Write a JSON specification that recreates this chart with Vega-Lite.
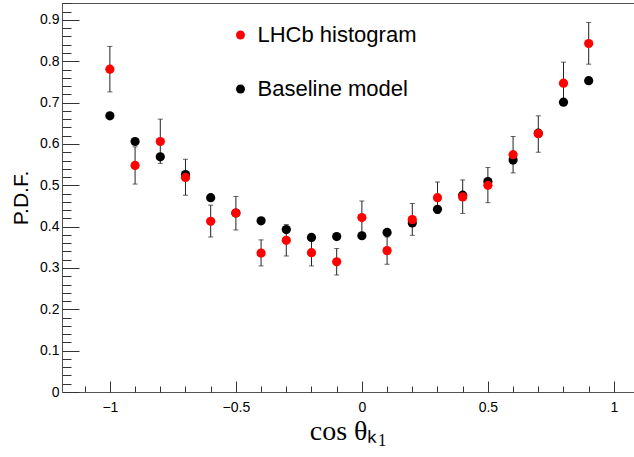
{
  "$schema": "https://vega.github.io/schema/vega-lite/v6.json",
  "width": 572,
  "height": 389,
  "autosize": "none",
  "padding": {"left": 62, "top": 3, "right": 0, "bottom": 65},
  "background": "white",
  "config": {"view": {"stroke": "#555555", "strokeWidth": 1}, "font": "Liberation Sans"},
  "data": {"values": [
    {"x": -1.0, "series": "Baseline model", "y": 0.668},
    {"x": -0.9, "series": "Baseline model", "y": 0.606},
    {"x": -0.8, "series": "Baseline model", "y": 0.569},
    {"x": -0.7, "series": "Baseline model", "y": 0.526},
    {"x": -0.6, "series": "Baseline model", "y": 0.470},
    {"x": -0.5, "series": "Baseline model", "y": 0.433},
    {"x": -0.4, "series": "Baseline model", "y": 0.414},
    {"x": -0.3, "series": "Baseline model", "y": 0.393},
    {"x": -0.2, "series": "Baseline model", "y": 0.374},
    {"x": -0.1, "series": "Baseline model", "y": 0.376},
    {"x": 0.0, "series": "Baseline model", "y": 0.378},
    {"x": 0.1, "series": "Baseline model", "y": 0.386},
    {"x": 0.2, "series": "Baseline model", "y": 0.409},
    {"x": 0.3, "series": "Baseline model", "y": 0.442},
    {"x": 0.4, "series": "Baseline model", "y": 0.476},
    {"x": 0.5, "series": "Baseline model", "y": 0.509},
    {"x": 0.6, "series": "Baseline model", "y": 0.561},
    {"x": 0.7, "series": "Baseline model", "y": 0.626},
    {"x": 0.8, "series": "Baseline model", "y": 0.701},
    {"x": 0.9, "series": "Baseline model", "y": 0.753},
    {"x": -1.0, "series": "LHCb histogram", "y": 0.781, "lo": 0.726, "hi": 0.836},
    {"x": -0.9, "series": "LHCb histogram", "y": 0.548, "lo": 0.503, "hi": 0.593},
    {"x": -0.8, "series": "LHCb histogram", "y": 0.606, "lo": 0.553, "hi": 0.660},
    {"x": -0.7, "series": "LHCb histogram", "y": 0.519, "lo": 0.476, "hi": 0.563},
    {"x": -0.6, "series": "LHCb histogram", "y": 0.413, "lo": 0.375, "hi": 0.452},
    {"x": -0.5, "series": "LHCb histogram", "y": 0.433, "lo": 0.392, "hi": 0.473},
    {"x": -0.4, "series": "LHCb histogram", "y": 0.336, "lo": 0.305, "hi": 0.368},
    {"x": -0.3, "series": "LHCb histogram", "y": 0.367, "lo": 0.329, "hi": 0.405},
    {"x": -0.2, "series": "LHCb histogram", "y": 0.337, "lo": 0.305, "hi": 0.372},
    {"x": -0.1, "series": "LHCb histogram", "y": 0.315, "lo": 0.283, "hi": 0.347},
    {"x": 0.0, "series": "LHCb histogram", "y": 0.422, "lo": 0.379, "hi": 0.462},
    {"x": 0.1, "series": "LHCb histogram", "y": 0.342, "lo": 0.309, "hi": 0.375},
    {"x": 0.2, "series": "LHCb histogram", "y": 0.417, "lo": 0.379, "hi": 0.456},
    {"x": 0.3, "series": "LHCb histogram", "y": 0.470, "lo": 0.432, "hi": 0.508},
    {"x": 0.4, "series": "LHCb histogram", "y": 0.472, "lo": 0.432, "hi": 0.513},
    {"x": 0.5, "series": "LHCb histogram", "y": 0.500, "lo": 0.458, "hi": 0.543},
    {"x": 0.6, "series": "LHCb histogram", "y": 0.574, "lo": 0.530, "hi": 0.618},
    {"x": 0.7, "series": "LHCb histogram", "y": 0.625, "lo": 0.580, "hi": 0.668},
    {"x": 0.8, "series": "LHCb histogram", "y": 0.747, "lo": 0.697, "hi": 0.798},
    {"x": 0.9, "series": "LHCb histogram", "y": 0.843, "lo": 0.793, "hi": 0.894}
  ]},
  "layer": [
    {
      "transform": [{"filter": "datum.series === 'LHCb histogram'"}],
      "mark": {"type": "errorbar", "color": "#222222", "ticks": {"size": 5, "color": "#222222"}, "rule": {"color": "#222222", "strokeWidth": 1}},
      "encoding": {
        "x": {"field": "x", "type": "quantitative",
          "scale": {"domain": [-1.19, 1.0798], "nice": false, "zero": false},
          "axis": {"orient": "bottom", "values": [-1, -0.5, 0, 0.5, 1], "format": "~g", "grid": false, "domain": false,
            "tickSize": -11, "tickColor": "#333333", "labelPadding": 19, "labelFontSize": 14, "labelColor": "#000000", "labelFont": "Liberation Sans",
            "title": "cos θₖ₁", "titleFont": "Liberation Serif", "titleFontSize": 28, "titleFontWeight": "normal", "titleColor": "#000000", "titlePadding": 3}},
        "y": {"field": "lo", "type": "quantitative",
          "scale": {"domain": [0, 0.941], "nice": false, "zero": true},
          "axis": {"orient": "left", "values": [0, 0.1, 0.2, 0.3, 0.4, 0.5, 0.6, 0.7, 0.8, 0.9], "format": "~g", "grid": false, "domain": false,
            "tickSize": -17, "tickColor": "#333333", "labelPadding": 20, "labelFontSize": 14, "labelColor": "#000000", "labelFont": "Liberation Sans",
            "title": "P.D.F.", "titleFont": "Liberation Sans", "titleFontSize": 21, "titleFontWeight": "normal", "titleColor": "#000000", "titlePadding": 8}},
        "y2": {"field": "hi"}
      }
    },
    {
      "mark": {"type": "point", "filled": true, "opacity": 1, "size": 85, "shape": "circle", "strokeWidth": 0},
      "encoding": {
        "x": {"field": "x", "type": "quantitative",
          "axis": {"orient": "bottom", "values": [-1.1, -0.9, -0.8, -0.7, -0.6, -0.4, -0.3, -0.2, -0.1, 0.1, 0.2, 0.3, 0.4, 0.6, 0.7, 0.8, 0.9], "labels": false, "grid": false, "domain": false, "tickSize": -6, "tickColor": "#333333", "title": null}},
        "y": {"field": "y", "type": "quantitative",
          "axis": {"orient": "left", "values": [0.02, 0.04, 0.06, 0.08, 0.12, 0.14, 0.16, 0.18, 0.22, 0.24, 0.26, 0.28, 0.32, 0.34, 0.36, 0.38, 0.42, 0.44, 0.46, 0.48, 0.52, 0.54, 0.56, 0.58, 0.62, 0.64, 0.66, 0.68, 0.72, 0.74, 0.76, 0.78, 0.82, 0.84, 0.86, 0.88, 0.92, 0.94], "labels": false, "grid": false, "domain": false, "tickSize": -9, "tickColor": "#333333", "title": null}},
        "color": {"field": "series", "type": "nominal",
          "scale": {"domain": ["LHCb histogram", "Baseline model"], "range": ["#ff0000", "#000000"]},
          "legend": {"orient": "none", "legendX": 167.5, "legendY": 21, "title": null, "padding": 0,
            "labelFontSize": 22, "labelFont": "Liberation Sans", "labelOffset": 6, "rowPadding": 32,
            "symbolSize": 80, "symbolType": "circle", "symbolStrokeWidth": 0,
            "encode": {"labels": {"update": {"fill": {"signal": "datum.value === 'LHCb histogram' ? '#e22b2b' : '#000000'"}}}}}}
      }
    }
  ],
  "resolve": {"axis": {"x": "independent", "y": "independent"}}
}
